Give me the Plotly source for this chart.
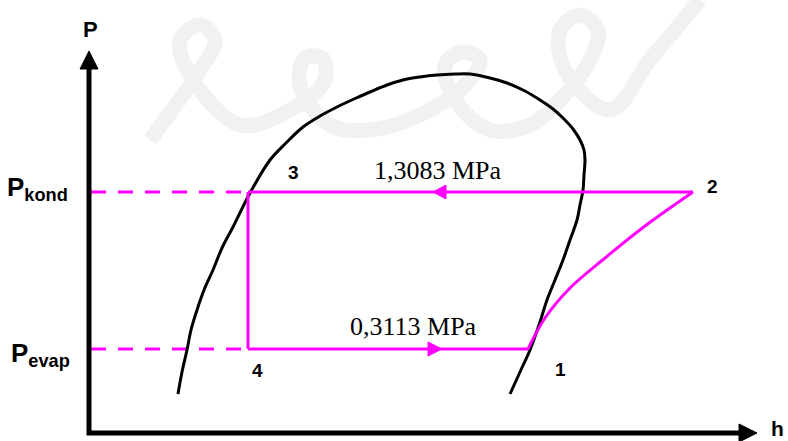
import plotly.graph_objects as go

# Saturation dome of the refrigerant (h, P in drawing units)
dome_h = [178, 182, 187, 191, 197, 204, 213, 222, 233, 250, 270, 286, 303, 320, 337,
          354, 370, 387, 403, 420, 437, 455, 470, 490, 507, 525, 540, 553, 563, 573,
          580, 584, 585, 584, 583, 580, 577, 570, 563, 555, 547, 539, 530, 520, 510]
dome_p = [47, 69, 91, 111, 131, 151, 171, 193, 214, 248, 281, 298, 314, 325, 334,
          342, 349, 356, 361, 364, 366, 367, 367, 363, 358, 350, 341, 332, 323, 312,
          301, 291, 281, 266, 251, 236, 221, 201, 181, 161, 141, 116, 91, 69, 47]

# Pressure levels of the cycle
p_kond = 249
p_evap = 92

# Cycle state points (enthalpy)
h_1 = 528
h_2 = 693
h_3 = 248
h_4 = 248

# Compression path 1 -> 2 (superheated region)
comp_h = [528, 545, 570, 605, 645, 693]
comp_p = [92, 123, 153, 183, 215, 249]

# Labels
state_labels = ["1", "2", "3", "4"]
pressure_texts = ["1,3083 MPa", "0,3113 MPa"]

MAG = "#FF00FF"
AX_LEFT = 89
AX_BOTTOM = 8

fig = go.Figure()

# faint background logo strokes
logo_x = [150, 200, 215, 200, 180, 190, 240, 290, 325, 322, 305, 300, 330, 370,
          420, 465, 480, 462, 445, 455, 490, 530, 560, 590, 598, 580, 560, 565,
          610, 650, 700]
logo_y = [301, 371, 401, 416, 401, 366, 316, 331, 361, 383, 383, 356, 316, 311,
          326, 356, 381, 389, 376, 341, 311, 316, 341, 381, 411, 426, 411, 371,
          331, 381, 441]
fig.add_trace(go.Scatter(x=logo_x, y=logo_y, mode="lines",
                         line=dict(color="#f1f1f1", width=15, shape="spline", smoothing=1.0),
                         hoverinfo="skip"))

# dashed guide lines to the pressure axis
for p in (p_kond, p_evap):
    fig.add_trace(go.Scatter(x=[AX_LEFT + 2, h_3], y=[p, p], mode="lines",
                             line=dict(color=MAG, width=3, dash="15px,12px")))

# saturation dome
fig.add_trace(go.Scatter(x=dome_h, y=dome_p, mode="lines",
                         line=dict(color="black", width=3, shape="spline", smoothing=1.0)))

# cycle: 4 -> 1 evaporation
fig.add_trace(go.Scatter(x=[h_4, h_1], y=[p_evap, p_evap], mode="lines",
                         line=dict(color=MAG, width=3)))
# 1 -> 2 compression
fig.add_trace(go.Scatter(x=comp_h, y=comp_p, mode="lines",
                         line=dict(color=MAG, width=3, shape="spline", smoothing=1.0)))
# 2 -> 3 condensation
fig.add_trace(go.Scatter(x=[h_2, h_3], y=[p_kond, p_kond], mode="lines",
                         line=dict(color=MAG, width=3)))
# 3 -> 4 expansion
fig.add_trace(go.Scatter(x=[h_3, h_4], y=[p_kond, p_evap], mode="lines",
                         line=dict(color=MAG, width=3)))

# flow direction arrowheads on the cycle
fig.add_trace(go.Scatter(x=[433, 446, 446, 433], y=[p_kond, p_kond + 7, p_kond - 7, p_kond],
                         mode="lines", fill="toself", fillcolor=MAG,
                         line=dict(color=MAG, width=1)))
fig.add_trace(go.Scatter(x=[442, 428, 428, 442], y=[p_evap, p_evap + 7, p_evap - 7, p_evap],
                         mode="lines", fill="toself", fillcolor=MAG,
                         line=dict(color=MAG, width=1)))

# coordinate axes with arrows
fig.add_trace(go.Scatter(x=[AX_LEFT, AX_LEFT, 745], y=[374, AX_BOTTOM, AX_BOTTOM], mode="lines",
                         line=dict(color="black", width=5)))
fig.add_trace(go.Scatter(x=[AX_LEFT, 80, 98, AX_LEFT], y=[390, 372, 372, 390],
                         mode="lines", fill="toself", fillcolor="black",
                         line=dict(color="black", width=1)))
fig.add_trace(go.Scatter(x=[757, 739, 739, 757], y=[AX_BOTTOM, AX_BOTTOM + 9, AX_BOTTOM - 9, AX_BOTTOM],
                         mode="lines", fill="toself", fillcolor="black",
                         line=dict(color="black", width=1)))

sans = "Liberation Sans, Arial, sans-serif"
serif = "Liberation Serif, Times New Roman, serif"

annotations = [
    dict(x=438, y=p_kond + 22, text=pressure_texts[0], font=dict(family=serif, size=26, color="black")),
    dict(x=413, y=p_evap + 23, text=pressure_texts[1], font=dict(family=serif, size=26, color="black")),
    dict(x=560, y=72, text="<b>%s</b>" % state_labels[0], font=dict(family=sans, size=19, color="black")),
    dict(x=712, y=255, text="<b>%s</b>" % state_labels[1], font=dict(family=sans, size=19, color="black")),
    dict(x=293, y=269, text="<b>%s</b>" % state_labels[2], font=dict(family=sans, size=19, color="black")),
    dict(x=257, y=71, text="<b>%s</b>" % state_labels[3], font=dict(family=sans, size=19, color="black")),
    dict(x=90.5, y=412, text="<b>P</b>", font=dict(family=sans, size=22, color="black")),
    dict(x=777, y=0, text="<b>h</b>", yanchor="bottom", font=dict(family=sans, size=21, color="black")),
    dict(x=69, y=p_kond + 4, text="<b>P<sub>kond</sub></b>", xanchor="right",
         font=dict(family=sans, size=26, color="black")),
    dict(x=71, y=p_evap - 5, text="<b>P<sub>evap</sub></b>", xanchor="right",
         font=dict(family=sans, size=26, color="black")),
]
for a in annotations:
    a.setdefault("xanchor", "center")
    a.setdefault("yanchor", "middle")
    a.update(xref="x", yref="y", showarrow=False, borderpad=0)

fig.update_layout(
    width=788, height=441,
    margin=dict(l=0, r=0, t=0, b=0),
    paper_bgcolor="white", plot_bgcolor="white",
    showlegend=False,
    xaxis=dict(range=[0, 788], visible=False, fixedrange=True),
    yaxis=dict(range=[0, 441], visible=False, fixedrange=True),
    annotations=annotations,
)

fig.write_html("out.html")
